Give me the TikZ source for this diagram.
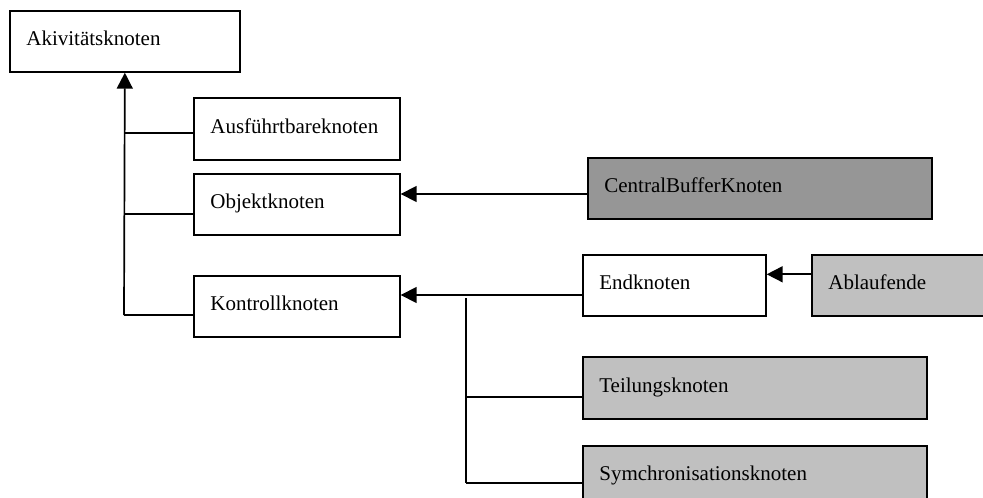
\documentclass[tikz,border=0pt]{standalone}
\usepackage{fontspec}
\setmainfont{Liberation Serif}
\usetikzlibrary{arrows.meta}
\definecolor{darkfill}{HTML}{969696}
\definecolor{lightfill}{HTML}{C0C0C0}

\begin{document}
\begin{tikzpicture}[x=1pt,y=-1pt,
  box/.style={draw=black, line width=1.7pt, anchor=north west,
    inner xsep=16.5pt, inner ysep=0pt, minimum height=61pt,
    align=left, text height=14pt, text depth=5pt,
    font=\fontsize{21}{25}\selectfont},
  link/.style={line width=1.7pt},
  arr/.style={link, -{Triangle[length=16pt,width=16pt]}}]

\useasboundingbox (0,0) rectangle (983,498);
\clip (0,0) rectangle (983,498);

% boxes
\node[box, text width=197pt] (akt) at (9,10) {Akivitätsknoten};
\node[box, text width=173pt, minimum height=62pt] (ausf) at (193,97) {Ausführtbareknoten};
\node[box, text width=173pt] (obj) at (193,173) {Objektknoten};
\node[box, text width=173pt] (kontr) at (193,275) {Kontrollknoten};
\node[box, fill=darkfill, text width=311pt] (cbk) at (587,157) {CentralBufferKnoten};
\node[box, text width=150pt] (end) at (582,254) {Endknoten};
\node[box, fill=lightfill, text width=147pt] (abl) at (811,254) {Ablaufende};
\node[box, fill=lightfill, text width=311pt, minimum height=62pt] (teil) at (582,356) {Teilungsknoten};
\node[box, fill=lightfill, text width=311pt] (sym) at (582,445) {Symchronisationsknoten};

% junction points
\coordinate (j1) at (124,132.7);
\coordinate (j2) at (124,214);
\coordinate (j3) at (124,315);
\coordinate (k1) at (466,298);
\coordinate (k2) at (466,397);
\coordinate (k3) at (466,483);

% generalisation tree to Akivitätsknoten
\draw[arr] (j3) -- (akt.south);
\draw[link] (j1) -- (ausf.west |- j1);
\draw[link] (j2) -- (obj.west |- j2);
\draw[link] (j3) -- (kontr.west |- j3);

% right-hand arrows
\draw[arr] (cbk.west |- 0,194) -- (obj.east |- 0,194);
\draw[arr] (end.west |- 0,295) -- (kontr.east |- 0,295);
\draw[arr] (abl.west |- 0,274.3) -- (end.east |- 0,274.3);

% branch to Teilungs- and Symchronisationsknoten
\draw[link] (k1) -- (k3);
\draw[link] (k2) -- (teil.west |- k2);
\draw[link] (k3) -- (sym.west |- k3);
\end{tikzpicture}
\end{document}
